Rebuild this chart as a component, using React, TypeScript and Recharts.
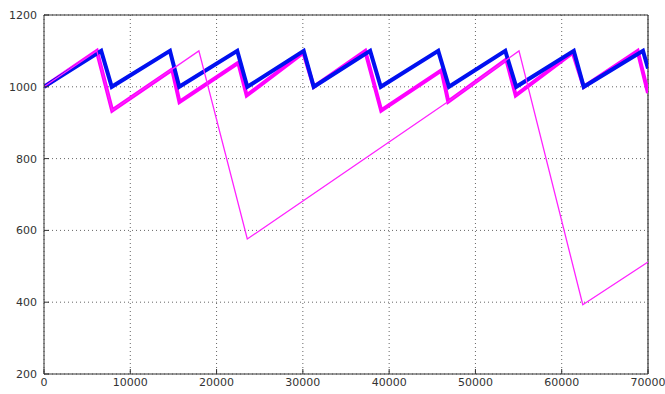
import { LineChart, Line, XAxis, YAxis, CartesianGrid, ReferenceLine } from 'recharts'

// values
const blueTime = [0, 6630, 7850, 14600, 15670, 22400, 23560, 30100, 31260, 37800, 39030, 45690, 46930, 53460, 54730, 61400, 62550, 69420, 70000]
const blueValue = [1000, 1100, 1000, 1100, 1000, 1100, 1000, 1100, 1000, 1100, 1000, 1100, 1000, 1100, 1000, 1100, 1000, 1100, 1051]

const pinkTime = [0, 6120, 7900, 14860, 15700, 22520, 23490, 30060, 31260, 37230, 39080, 46070, 46850, 53580, 54670, 61280, 62550, 68800, 70000]
const pinkValue = [1000, 1100, 934, 1048, 958, 1067, 976, 1095, 1000, 1100, 934, 1046, 959, 1076, 976, 1095, 1000, 1100, 983]

const thinTime = [0, 6120, 7900, 17950, 23560, 46850, 55050, 62440, 70000]
const thinValue = [1000, 1100, 934, 1100, 576, 959, 1100, 393, 512]

const xTicks = [0, 10000, 20000, 30000, 40000, 50000, 60000, 70000]
const yTicks = [200, 400, 600, 800, 1000, 1200]

const zip = (t: number[], v: number[]) => t.map((x, i) => ({ x, y: v[i] }))

const blueData = zip(blueTime, blueValue)
const pinkData = zip(pinkTime, pinkValue)
const thinData = zip(thinTime, thinValue)

const tickStyle = { fontFamily: 'DejaVu Sans', fontSize: 11, fill: '#333' }

export default function App() {
  return (
    <div style={{ position: 'absolute', left: 0, top: 0, background: '#fff' }}>
      <LineChart width={665} height={394} margin={{ top: 15, right: 17, bottom: 0, left: 0 }}>
        <CartesianGrid stroke="#666" strokeDasharray="1 3" />
        <XAxis
          dataKey="x"
          type="number"
          domain={[0, 70000]}
          ticks={xTicks}
          height={20}
          tick={tickStyle}
          tickSize={-5}
          tickMargin={9}
          stroke="#333"
          allowDataOverflow
        />
        <YAxis
          type="number"
          domain={[200, 1200]}
          ticks={yTicks}
          width={44}
          tick={tickStyle}
          tickSize={-5}
          tickMargin={12}
          stroke="#333"
          allowDataOverflow
        />
        <ReferenceLine x={70000} stroke="#333" strokeWidth={1.2} />
        <ReferenceLine y={1200} stroke="#333" strokeWidth={1.2} />
        <Line data={pinkData} dataKey="y" type="linear" stroke="#ff00ff" strokeWidth={4} dot={false} isAnimationActive={false} />
        <Line data={blueData} dataKey="y" type="linear" stroke="#0010f0" strokeWidth={4} dot={false} isAnimationActive={false} />
        <Line data={thinData} dataKey="y" type="linear" stroke="#ff22ff" strokeWidth={1.3} dot={false} isAnimationActive={false} />
      </LineChart>
    </div>
  )
}
